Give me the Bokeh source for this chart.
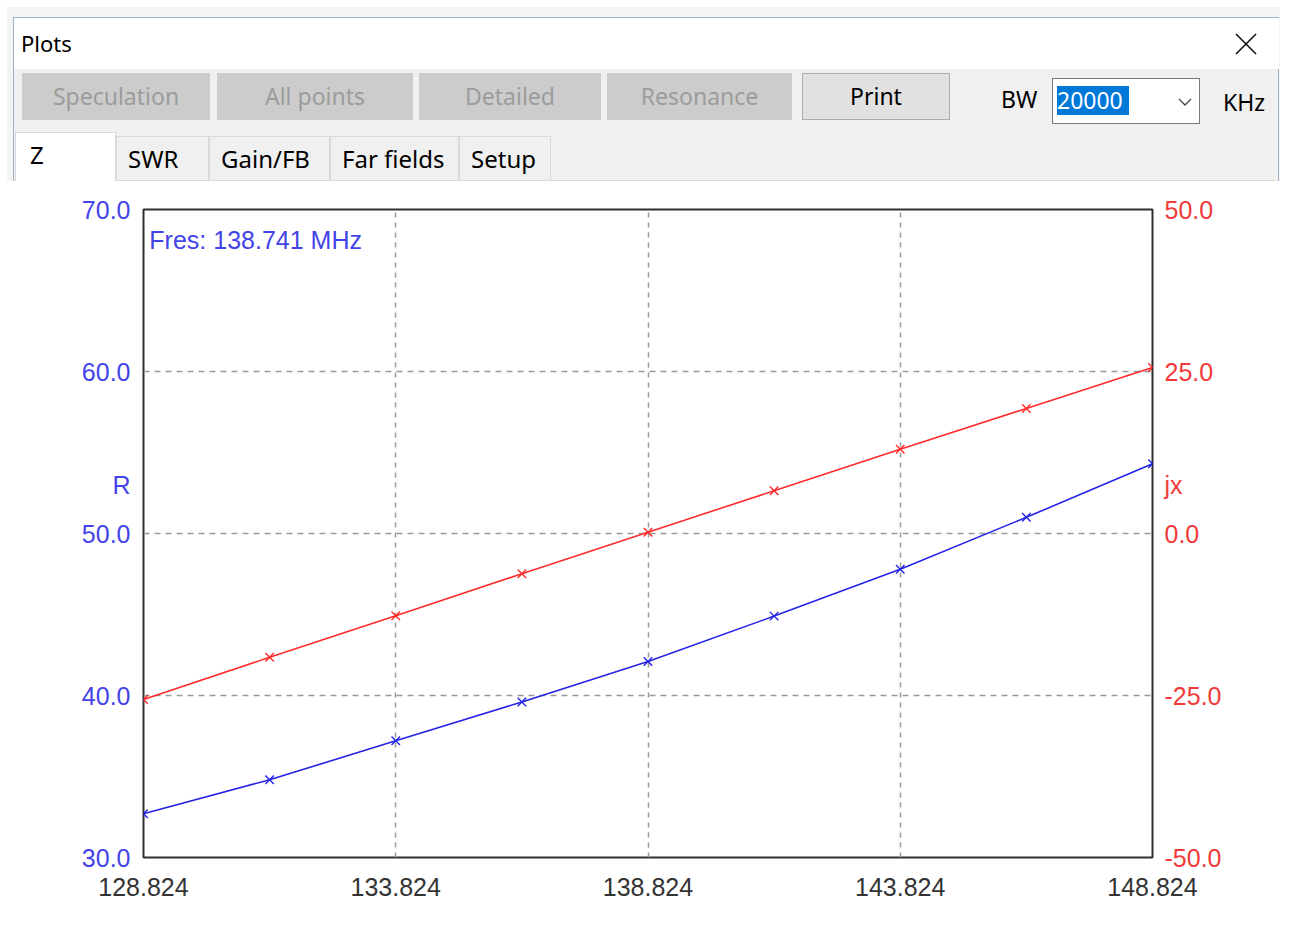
from bokeh.plotting import figure
from bokeh.models import Range1d, LinearAxis, FixedTicker, PrintfTickFormatter, Label, Div, Grid
from bokeh.layouts import column
from bokeh.embed import file_html
from bokeh.resources import INLINE

# ---------------- data ----------------
freq_mhz = [128.824, 131.324, 133.824, 136.324, 138.824, 141.324, 143.824, 146.324, 148.824]
r_ohm = [32.7, 34.8, 37.2, 39.6, 42.1, 44.9, 47.8, 51.0, 54.3]
jx_ohm = [-25.6, -19.1, -12.7, -6.2, 0.2, 6.6, 13.0, 19.3, 25.6]
x_ticks = [128.824, 133.824, 138.824, 143.824, 148.824]
r_ticks = [30, 40, 50, 60, 70]
jx_ticks = [-50, -25, 0, 25, 50]
fres_text = "Fres: 138.741 MHz"
r_label = "R"
jx_label = "jx"
window_title = "Plots"
button_names = ["Speculation", "All points", "Detailed", "Resonance", "Print"]
button_enabled = [False, False, False, False, True]
tab_names = ["Z", "SWR", "Gain/FB", "Far fields", "Setup"]
bw_label = "BW"
bw_value = "20000"
bw_unit = "KHz"

# ---------------- styles ----------------
BLUE_LINE = "#2424e6"
RED_LINE = "#ff2a2a"
BLUE_TEXT = "#4343e8"
RED_TEXT = "#f03a3a"
CHART_FONT = "Liberation Sans"
UI_FONT = "Noto Sans"

# ---------------- window chrome (HTML) ----------------
btn_left = [15, 210, 412, 600, 795]
btn_width = [188, 196, 182, 185, 148]
tab_left = [8, 109, 202, 323, 452]
tab_width = [101, 93, 121, 129, 92]

parts = []
parts.append(f'<div style="position:relative;width:1273px;height:174px;overflow:hidden;'
             f'background:#f4f4f4;font-family:\'{UI_FONT}\',sans-serif;">')
# dialog body
parts.append('<div style="position:absolute;left:6px;top:10px;width:1266px;height:170px;'
             'background:#f0f0f0;border:1px solid #9fb4c8;"></div>')
# title bar
parts.append('<div style="position:absolute;left:7px;top:11px;width:1265px;height:51px;background:#ffffff;"></div>')
parts.append(f'<div style="position:absolute;left:14px;top:22px;font-size:22px;line-height:28px;color:#000;">{window_title}</div>')
parts.append('<svg style="position:absolute;left:1228px;top:26px;" width="22" height="22">'
             '<line x1="1" y1="1" x2="21" y2="21" stroke="#111" stroke-width="1.6"/>'
             '<line x1="21" y1="1" x2="1" y2="21" stroke="#111" stroke-width="1.6"/></svg>')
# buttons
for name, en, l, w in zip(button_names, button_enabled, btn_left, btn_width):
    bg = "#e1e1e1" if en else "#cccccc"
    fg = "#000000" if en else "#9c9c9c"
    bd = "#adadad" if en else "#cccccc"
    parts.append(f'<div style="position:absolute;left:{l}px;top:66px;width:{w}px;height:47px;'
                 f'box-sizing:border-box;background:{bg};border:1px solid {bd};color:{fg};'
                 f'font-size:23px;line-height:45px;text-align:center;">{name}</div>')
# BW selector
parts.append(f'<div style="position:absolute;left:994px;top:76px;font-size:23px;line-height:32px;color:#000;">{bw_label}</div>')
parts.append('<div style="position:absolute;left:1045px;top:71px;width:148px;height:46px;box-sizing:border-box;'
             'background:#fff;border:1px solid #7a7a7a;"></div>')
parts.append(f'<div style="position:absolute;left:1050px;top:79px;width:72px;height:29px;background:#0078d7;'
             f'color:#fff;font-size:23px;line-height:29px;">{bw_value}</div>')
parts.append('<svg style="position:absolute;left:1171px;top:91px;" width="14" height="9">'
             '<polyline points="1,1 7,7 13,1" fill="none" stroke="#444" stroke-width="1.3"/></svg>')
parts.append(f'<div style="position:absolute;left:1216px;top:79px;font-size:23px;line-height:32px;color:#000;">{bw_unit}</div>')
# tabs
parts.append('<div style="position:absolute;left:8px;top:173px;width:1260px;height:1px;background:#d9d9d9;"></div>')
for i, (name, l, w) in enumerate(zip(tab_names, tab_left, tab_width)):
    if i == 0:
        parts.append(f'<div style="position:absolute;left:{l}px;top:125px;width:{w}px;height:50px;box-sizing:border-box;'
                     f'background:#fff;border:1px solid #d9d9d9;border-bottom:none;font-size:24px;line-height:44px;'
                     f'padding-left:14px;color:#000;">{name}</div>')
    else:
        parts.append(f'<div style="position:absolute;left:{l}px;top:129px;width:{w}px;height:45px;box-sizing:border-box;'
                     f'background:#f0f0f0;border:1px solid #d9d9d9;font-size:24px;line-height:43px;'
                     f'padding-left:11px;color:#000;">{name}</div>')
parts.append('</div>')
chrome = Div(text="".join(parts), width=1273, height=174, margin=(0, 0, 0, 0))

# ---------------- chart ----------------
p = figure(width=1273, height=736, output_backend="svg", toolbar_location=None,
           x_range=Range1d(x_ticks[0], x_ticks[-1]), y_range=Range1d(r_ticks[0], r_ticks[-1]),
           x_axis_type=None, y_axis_type=None,
           min_border_left=136, min_border_right=128, min_border_top=28, min_border_bottom=60)
p.extra_y_ranges = {"jx": Range1d(jx_ticks[0], jx_ticks[-1])}
p.background_fill_color = "#ffffff"
p.border_fill_color = "#ffffff"
p.outline_line_color = "#2e2e2e"
p.outline_line_width = 2

def style_axis(ax, color):
    ax.axis_line_color = None
    ax.major_tick_line_color = None
    ax.minor_tick_line_color = None
    ax.major_tick_out = 0
    ax.major_tick_in = 0
    ax.major_label_text_font = CHART_FONT
    ax.major_label_text_font_size = "25px"
    ax.major_label_text_color = color

ax_b = LinearAxis(ticker=FixedTicker(ticks=x_ticks), formatter=PrintfTickFormatter(format="%.3f"))
style_axis(ax_b, "#333333")
ax_b.major_label_standoff = 20
p.add_layout(ax_b, "below")

ax_l = LinearAxis(ticker=FixedTicker(ticks=r_ticks + [53]), formatter=PrintfTickFormatter(format="%.1f"),
                  major_label_overrides={53: r_label})
style_axis(ax_l, BLUE_TEXT)
ax_l.major_label_standoff = 13
p.add_layout(ax_l, "left")

ax_r = LinearAxis(y_range_name="jx", ticker=FixedTicker(ticks=jx_ticks + [7.5]),
                  formatter=PrintfTickFormatter(format="%.1f"), major_label_overrides={7.5: jx_label})
style_axis(ax_r, RED_TEXT)
ax_r.major_label_standoff = 12
p.add_layout(ax_r, "right")

gx = Grid(dimension=0, ticker=FixedTicker(ticks=x_ticks[1:-1]),
          grid_line_color="#9a9a9a", grid_line_dash="5 5", grid_line_width=1.5)
gy = Grid(dimension=1, ticker=FixedTicker(ticks=r_ticks[1:-1]),
          grid_line_color="#9a9a9a", grid_line_dash="6 5", grid_line_width=1.5)
p.add_layout(gx)
p.add_layout(gy)

p.line(freq_mhz, jx_ohm, line_color=RED_LINE, line_width=1.6, y_range_name="jx")
p.scatter(freq_mhz, jx_ohm, marker="x", size=12, line_color=RED_LINE, line_width=1.4, y_range_name="jx")
p.line(freq_mhz, r_ohm, line_color=BLUE_LINE, line_width=1.6)
p.scatter(freq_mhz, r_ohm, marker="x", size=12, line_color=BLUE_LINE, line_width=1.4)

p.add_layout(Label(x=128.94, y=68.1, text=fres_text, text_color=BLUE_TEXT, text_font=CHART_FONT,
                   text_font_size="25px", text_baseline="middle"))

layout = column(chrome, p, spacing=0, margin=(7, 0, 0, 7))
open("out.html", "w").write(file_html(layout, INLINE))
